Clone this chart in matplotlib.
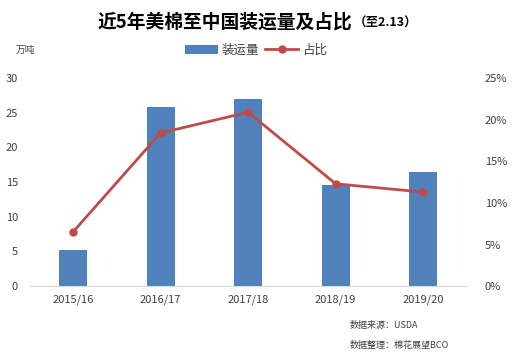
import matplotlib
matplotlib.use("Agg")
import matplotlib.pyplot as plt
from matplotlib.ticker import FuncFormatter

plt.rcParams['font.family'] = ['Noto Sans CJK SC', 'DejaVu Sans']

# data
seasons = ["2015/16", "2016/17", "2017/18", "2018/19", "2019/20"]
shipments = [5.2, 25.8, 27.0, 14.6, 16.4]      # 万吨
share = [6.5, 18.4, 20.9, 12.3, 11.3]          # %

bar_color = "#4F81BD"
line_color = "#BE4B48"
text_gray = "#404040"

fig = plt.figure(figsize=(5.12, 3.55), dpi=100)
ax = fig.add_axes([0.057, 0.194, 0.855, 0.586])
x = range(len(seasons))

bars = ax.bar(x, shipments, width=0.32, color=bar_color, label="装运量", zorder=2)
ax.set_ylim(0, 30)
ax.set_yticks(range(0, 31, 5))
ax.set_xlim(-0.5, len(seasons) - 0.5)
ax.set_xticks(list(x))
ax.set_xticklabels(seasons)

ax2 = ax.twinx()
line, = ax2.plot(x, share, color=line_color, linewidth=2.0, marker="o",
                 markersize=5, label="占比", zorder=3)
ax2.set_ylim(0, 25)
ax2.set_yticks(range(0, 26, 5))
ax2.yaxis.set_major_formatter(FuncFormatter(lambda v, p: f"{int(v)}%"))

for a in (ax, ax2):
    for s in ("top", "left", "right", "bottom"):
        a.spines[s].set_visible(False)
    a.tick_params(length=0, labelsize=8, colors=text_gray)
ax.spines["bottom"].set_visible(True)
ax.spines["bottom"].set_color("#D9D9D9")
ax.tick_params(axis="x", pad=6)
ax.tick_params(axis="y", pad=8)
ax2.tick_params(axis="y", pad=13)

fig.text(0.688, 0.938, "近5年美棉至中国装运量及占比", ha="right", va="center",
         fontsize=13.5, fontweight="bold", color="black")
fig.text(0.690, 0.935, "（至2.13）", ha="left", va="center",
         fontsize=9, fontweight="bold", color="black")

fig.text(0.03, 0.859, "万吨", ha="left", va="center", fontsize=7, color=text_gray)

fig.legend(handles=[bars, line], loc="center", bbox_to_anchor=(0.5, 0.859),
           ncol=2, frameon=False, fontsize=9, handlelength=2.6,
           columnspacing=0.5, handletextpad=0.3, labelcolor=text_gray)

fig.text(0.683, 0.083, "数据来源：USDA", ha="left", va="center", fontsize=6.5, color=text_gray)
fig.text(0.683, 0.028, "数据整理：棉花展望BCO", ha="left", va="center", fontsize=6.5, color=text_gray)

fig.savefig("out.png", dpi=100)
